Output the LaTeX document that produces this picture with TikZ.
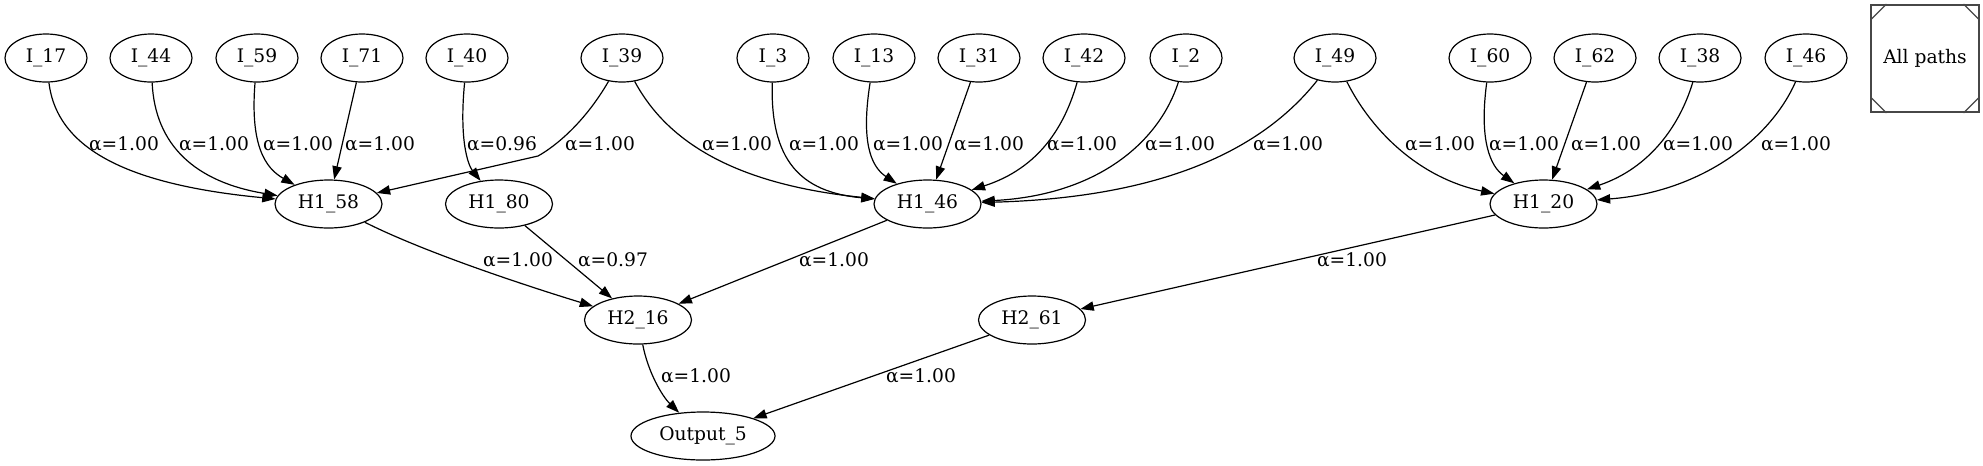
\documentclass[tikz,border=0pt]{standalone}
\usepackage{fontspec}
\setmainfont{DejaVu Serif}
\usetikzlibrary{arrows.meta,calc,shapes.geometric}
\begin{document}
\begin{tikzpicture}[x=0.75pt,y=-0.75pt,
  every node/.style={font=\fontsize{14pt}{16pt}\selectfont},
  nd/.style={ellipse,draw,line width=0.9pt,inner sep=0pt,minimum height=36pt,minimum width=61.5pt},
  ndn/.style={nd,minimum width=54pt},
  ndh/.style={nd,minimum width=80.25pt},
  ndo/.style={nd,minimum width=108pt},
  conn/.style={draw,line width=0.9pt,-{Triangle[length=10pt,width=7pt]}},
  lbl/.style={inner sep=0pt}]
\useasboundingbox (0,0) rectangle (1983,465);
% top row
\node[nd] (I17) at (46,58) {I\_17};
\node[nd] (I44) at (151,58) {I\_44};
\node[nd] (I59) at (257,58) {I\_59};
\node[nd] (I71) at (362,58) {I\_71};
\node[nd] (I40) at (467,58) {I\_40};
\node[nd] (I39) at (622,58) {I\_39};
\node[ndn] (I3) at (773,58) {I\_3};
\node[nd] (I13) at (874,58) {I\_13};
\node[nd] (I31) at (979,58) {I\_31};
\node[nd] (I42) at (1084,58) {I\_42};
\node[ndn] (I2) at (1186,58) {I\_2};
\node[nd] (I49) at (1335,58) {I\_49};
\node[nd] (I60) at (1490,58) {I\_60};
\node[nd] (I62) at (1595,58) {I\_62};
\node[nd] (I38) at (1700,58) {I\_38};
\node[nd] (I46) at (1806,58) {I\_46};
% hidden 1
\node[ndh] (H158) at (328.5,204) {H1\_58};
\node[ndh] (H180) at (499,204) {H1\_80};
\node[ndh] (H146) at (927.5,204) {H1\_46};
\node[ndh] (H120) at (1543.5,204) {H1\_20};
% hidden 2
\node[ndh] (H216) at (638,320) {H2\_16};
\node[ndh] (H261) at (1032,320) {H2\_61};
% output
\node[ndo] (O5) at (703,436) {Output\_5};
% legend box
\node[draw=black!72,line width=1.4pt,minimum width=80.5pt,minimum height=80.25pt,inner sep=0pt] (AP) at (1925,58.5) {All paths};
\draw[black!72,line width=0.9pt] ($(AP.north west)+(0,16)$) -- ($(AP.north west)+(16,0)$);
\draw[black!72,line width=0.9pt] ($(AP.north east)+(0,16)$) -- ($(AP.north east)+(-16,0)$);
\draw[black!72,line width=0.9pt] ($(AP.south west)+(0,-16)$) -- ($(AP.south west)+(16,0)$);
\draw[black!72,line width=0.9pt] ($(AP.south east)+(0,-16)$) -- ($(AP.south east)+(-16,0)$);
% edges into H1_58
\draw[conn] (I17) .. controls (57,150) and (130,185) .. (H158);
\draw[conn] (I44) .. controls (155,145) and (195,182) .. (H158);
\draw[conn] (I59) .. controls (250,145) and (265,168) .. (H158);
\draw[conn] (I71) -- (H158);
\draw[conn] (I39) .. controls (585,122) and (556,146) .. (538,156) -- (H158);
% into H1_80
\draw[conn] (I40) .. controls (459,140) and (468,165) .. (H180);
% into H1_46
\draw[conn] (I39) .. controls (662,132) and (720,183) .. (H146);
\draw[conn] (I3) .. controls (770,160) and (800,192) .. (H146);
\draw[conn] (I13) .. controls (861,140) and (870,166) .. (H146);
\draw[conn] (I31) -- (H146);
\draw[conn] (I42) .. controls (1065,125) and (1040,168) .. (H146);
\draw[conn] (I2) .. controls (1160,140) and (1100,195) .. (H146);
\draw[conn] (I49) .. controls (1270,140) and (1180,197) .. (H146);
% into H1_20
\draw[conn] (I49) .. controls (1372,132) and (1420,178) .. (H120);
\draw[conn] (I60) .. controls (1479,140) and (1490,166) .. (H120);
\draw[conn] (I62) -- (H120);
\draw[conn] (I38) .. controls (1680,125) and (1650,168) .. (H120);
\draw[conn] (I46) .. controls (1770,140) and (1700,192) .. (H120);
% into H2
\draw[conn] (H158) .. controls (430,255) and (540,290) .. (H216);
\draw[conn] (H180) -- (H216);
\draw[conn] (H146) -- (H216);
\draw[conn] (H120) -- (H261);
% into output
\draw[conn] (H216) .. controls (648,372) and (662,396) .. (O5);
\draw[conn] (H261) -- (O5);
% labels
\node[lbl] (l1) at (124,144) {α=1.00};
\node[lbl] (l2) at (214,144) {α=1.00};
\node[lbl] (l3) at (298,144) {α=1.00};
\node[lbl] (l4) at (380,144) {α=1.00};
\node[lbl] (l5) at (502,144) {α=0.96};
\node[lbl] (l6) at (600,144) {α=1.00};
\node[lbl] (l7) at (737,144) {α=1.00};
\node[lbl] (l8) at (824,144) {α=1.00};
\node[lbl] (l9) at (908,144) {α=1.00};
\node[lbl] (l10) at (989,144) {α=1.00};
\node[lbl] (l11) at (1082,144) {α=1.00};
\node[lbl] (l12) at (1180,144) {α=1.00};
\node[lbl] (l13) at (1288,144) {α=1.00};
\node[lbl] (l14) at (1440,144) {α=1.00};
\node[lbl] (l15) at (1524,144) {α=1.00};
\node[lbl] (l16) at (1606,144) {α=1.00};
\node[lbl] (l17) at (1698,144) {α=1.00};
\node[lbl] (l18) at (1796,144) {α=1.00};
\node[lbl] (l19) at (518,260) {α=1.00};
\node[lbl] (l20) at (613,260) {α=0.97};
\node[lbl] (l21) at (834,260) {α=1.00};
\node[lbl] (l22) at (1352,260) {α=1.00};
\node[lbl] (l23) at (696,376) {α=1.00};
\node[lbl] (l24) at (921,376) {α=1.00};
\end{tikzpicture}
\end{document}
